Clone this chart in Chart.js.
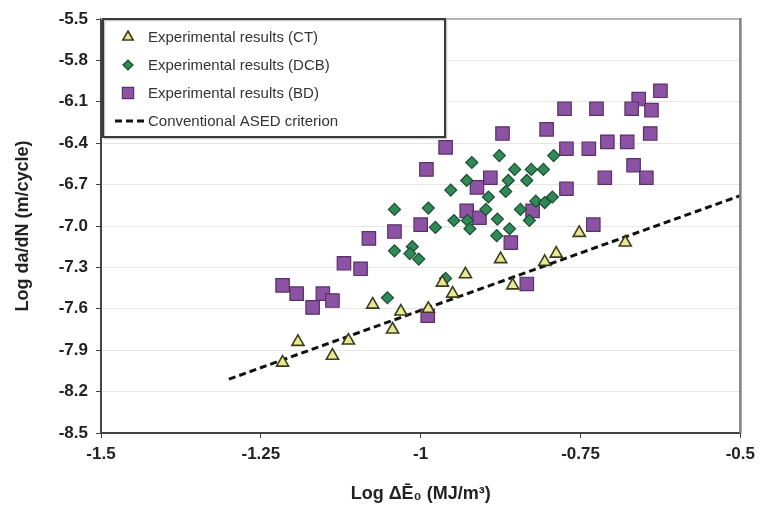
<!DOCTYPE html>
<html>
<head>
<meta charset="utf-8">
<script src="https://cdn.jsdelivr.net/npm/chart.js@4.4.0/dist/chart.umd.min.js"></script>
<style>
  html, body { margin: 0; padding: 0; background: #fff; }
  #wrap { width: 761px; height: 507px; }
</style>
</head>
<body>
<div id="wrap"><canvas id="chart" width="761" height="507"></canvas></div>
<script>
// tick labels
const xTicks = [-1.5, -1.25, -1, -0.75, -0.5];
const yTicks = [-8.5, -8.2, -7.9, -7.6, -7.3, -7.0, -6.7, -6.4, -6.1, -5.8, -5.5];

// CT specimens
const ctLogE = [-1.216, -1.192, -1.138, -1.113, -1.075, -1.044, -1.031, -0.988, -0.966, -0.950, -0.930, -0.875, -0.856, -0.806, -0.788, -0.752, -0.680];
const ctLogRate = [-7.99, -7.84, -7.94, -7.83, -7.57, -7.75, -7.62, -7.60, -7.41, -7.49, -7.35, -7.24, -7.43, -7.26, -7.20, -7.05, -7.12];

// DCB specimens
const dcbLogE = [-0.920, -0.877, -0.928, -0.953, -0.894, -1.041, -0.988, -0.898, -0.948, -0.977, -0.927, -0.923, -0.880, -0.881, -1.041, -1.013, -1.017, -1.003, -0.792, -0.853, -0.827, -0.808, -0.863, -0.834, -0.867, -0.820, -0.806, -0.794, -0.844, -0.830, -0.861, -1.052, -0.961];
const dcbLogRate = [-6.54, -6.49, -6.67, -6.74, -6.79, -6.88, -6.87, -6.88, -6.96, -7.01, -6.96, -7.02, -6.95, -7.07, -7.18, -7.15, -7.20, -7.24, -6.49, -6.59, -6.59, -6.59, -6.67, -6.67, -6.75, -6.82, -6.83, -6.79, -6.88, -6.96, -7.02, -7.52, -7.38];

// BD specimens
const bdLogE = [-0.961, -0.991, -0.891, -0.912, -0.928, -0.908, -1.000, -1.041, -1.081, -1.120, -1.094, -0.625, -0.659, -0.670, -0.639, -0.775, -0.725, -0.872, -0.803, -0.641, -0.772, -0.737, -0.708, -0.677, -0.667, -0.712, -0.647, -0.772, -0.825, -0.859, -0.730, -0.834, -1.216, -1.194, -1.153, -1.138, -1.169, -0.989];
const bdLogRate = [-6.43, -6.59, -6.65, -6.72, -6.89, -6.94, -6.99, -7.04, -7.09, -7.27, -7.31, -6.02, -6.08, -6.15, -6.16, -6.15, -6.15, -6.33, -6.30, -6.33, -6.44, -6.44, -6.39, -6.39, -6.56, -6.65, -6.65, -6.73, -6.89, -7.12, -6.99, -7.42, -7.43, -7.49, -7.49, -7.54, -7.59, -7.65];

// conventional ASED criterion line
const asedLogE = [-1.3, -0.5];
const asedLogRate = [-8.11, -6.78];

const toPoints = (xs, ys) => xs.map((x, i) => ({ x: x, y: ys[i] }));

const frameAndLegend = {
  id: 'frameAndLegend',
  afterDatasetsDraw(chart) {
    const ctx = chart.ctx;
    const a = chart.chartArea;
    ctx.save();

    // top and right frame
    ctx.strokeStyle = '#b5b5b5';
    ctx.lineWidth = 2;
    ctx.beginPath();
    ctx.moveTo(a.left, a.top);
    ctx.lineTo(a.right, a.top);
    ctx.stroke();
    ctx.strokeStyle = '#808080';
    ctx.lineWidth = 2.5;
    ctx.beginPath();
    ctx.moveTo(a.right, a.top - 1);
    ctx.lineTo(a.right, a.bottom);
    ctx.stroke();

    // legend box
    const bx = a.left + 2, by = a.top, bw = 342, bh = 118;
    ctx.fillStyle = '#fff';
    ctx.fillRect(bx, by, bw, bh);
    ctx.strokeStyle = '#c8c8c8';
    ctx.lineWidth = 1.5;
    ctx.strokeRect(bx + 1.5, by + 1.5, bw, bh);
    ctx.strokeStyle = '#3a3a3a';
    ctx.lineWidth = 2;
    ctx.strokeRect(bx, by, bw, bh);

    ctx.font = '15px "Liberation Sans", Arial, sans-serif';
    ctx.textBaseline = 'middle';
    ctx.textAlign = 'left';
    chart.data.datasets.forEach((ds, i) => {
      const y = by + 18 + i * 28;
      if (ds.showLine) {
        ctx.strokeStyle = ds.borderColor;
        ctx.lineWidth = ds.borderWidth;
        ctx.setLineDash(ds.borderDash);
        ctx.beginPath();
        ctx.moveTo(bx + 12, y);
        ctx.lineTo(bx + 41, y);
        ctx.stroke();
        ctx.setLineDash([]);
      } else {
        ctx.fillStyle = ds.backgroundColor;
        ctx.strokeStyle = ds.borderColor;
        ctx.lineWidth = ds.borderWidth;
        Chart.helpers.drawPoint(ctx, {
          pointStyle: ds.pointStyle,
          radius: ds.legendRadius,
          borderWidth: ds.borderWidth,
          rotation: 0
        }, bx + 25, y);
      }
      ctx.fillStyle = '#333';
      ctx.fillText(ds.label, bx + 45, y + 1);
    });
    ctx.restore();
  }
};

const ctx = document.getElementById('chart').getContext('2d');
new Chart(ctx, {
  type: 'scatter',
  data: {
    datasets: [
      {
        label: 'Experimental results (CT)',
        data: toPoints(ctLogE, ctLogRate),
        pointStyle: 'triangle',
        pointRadius: 7,
        legendRadius: 6,
        backgroundColor: '#e8e894',
        borderColor: '#3d3d1e',
        borderWidth: 1.6
      },
      {
        label: 'Experimental results (DCB)',
        data: toPoints(dcbLogE, dcbLogRate),
        pointStyle: 'rectRot',
        pointRadius: 6,
        legendRadius: 5,
        backgroundColor: '#2f8a57',
        borderColor: '#1d4d32',
        borderWidth: 1.2
      },
      {
        label: 'Experimental results (BD)',
        data: toPoints(bdLogE, bdLogRate),
        pointStyle: 'rect',
        pointRadius: 9.5,
        legendRadius: 8,
        backgroundColor: '#8c52a3',
        borderColor: '#5a3068',
        borderWidth: 1.2
      },
      {
        label: 'Conventional ASED criterion',
        data: toPoints(asedLogE, asedLogRate),
        showLine: true,
        pointRadius: 0,
        borderColor: '#111',
        borderWidth: 3,
        borderDash: [7, 4],
        fill: false
      }
    ]
  },
  options: {
    responsive: false,
    animation: false,
    layout: { padding: { top: 19, right: 20, left: 0, bottom: 0 } },
    plugins: {
      legend: { display: false },
      tooltip: { enabled: false }
    },
    scales: {
      x: {
        type: 'linear',
        min: -1.5,
        max: -0.5,
        afterBuildTicks: scale => { scale.ticks = xTicks.map(v => ({ value: v })); },
        afterFit: scale => { scale.height = 74; },
        border: { color: '#444', width: 2 },
        grid: { drawOnChartArea: false, tickColor: '#444', tickLength: 5 },
        ticks: {
          padding: 6,
          color: '#222',
          font: { family: '"Liberation Sans", Arial, sans-serif', size: 17, weight: 'bold' },
          callback: v => String(v)
        },
        title: {
          display: true,
          text: 'Log ΔĒ₀ (MJ/m³)',
          color: '#222',
          padding: { top: 0, bottom: 2 },
          font: { family: '"Liberation Sans", Arial, sans-serif', size: 18, weight: 'bold' }
        }
      },
      y: {
        type: 'linear',
        min: -8.5,
        max: -5.5,
        afterBuildTicks: scale => { scale.ticks = yTicks.map(v => ({ value: v })); },
        afterFit: scale => { scale.width = 101; },
        border: { color: '#444', width: 2 },
        grid: { color: '#e6e6e6', lineWidth: 1, tickColor: '#444', tickLength: 5 },
        ticks: {
          padding: 8,
          color: '#222',
          font: { family: '"Liberation Sans", Arial, sans-serif', size: 17, weight: 'bold' },
          callback: v => v.toFixed(1)
        },
        title: {
          display: true,
          text: 'Log da/dN (m/cycle)',
          color: '#222',
          padding: { top: 12, bottom: 0 },
          font: { family: '"Liberation Sans", Arial, sans-serif', size: 18, weight: 'bold' }
        }
      }
    }
  },
  plugins: [frameAndLegend]
});
</script>
</body>
</html>
